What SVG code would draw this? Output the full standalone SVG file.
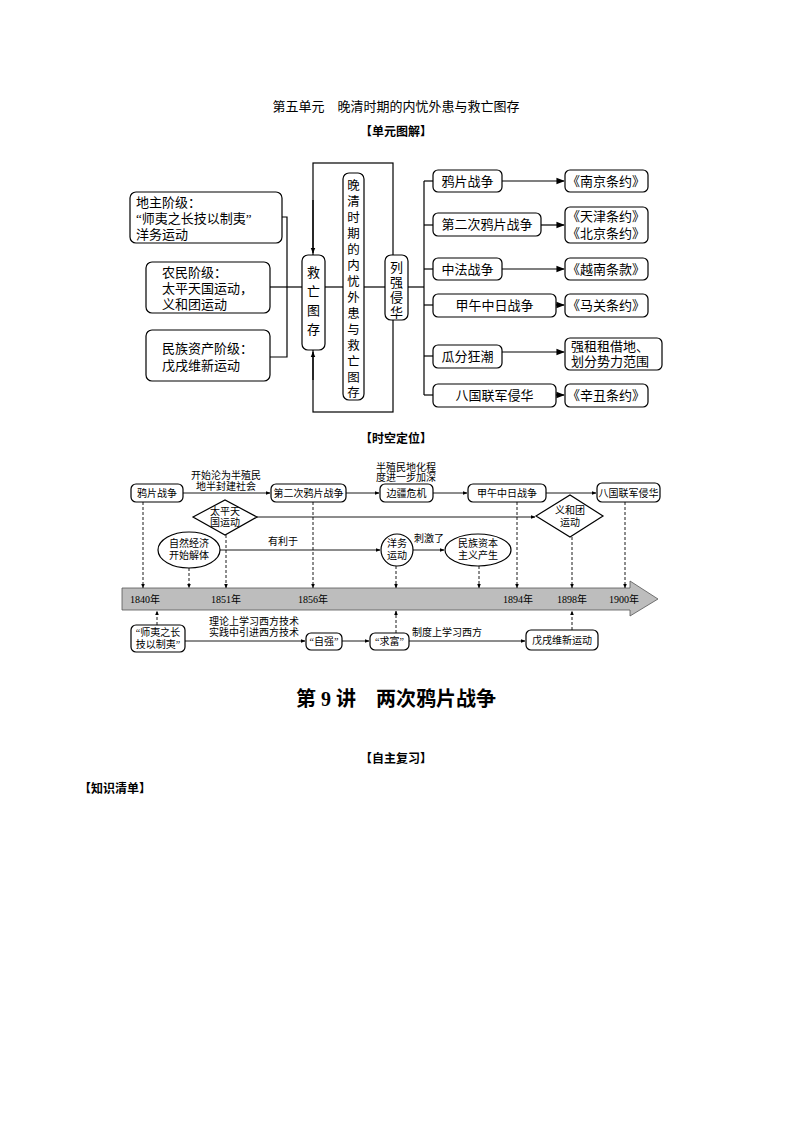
<svg xmlns="http://www.w3.org/2000/svg" width="794" height="1123" viewBox="0 0 794 1123">
<defs>
<marker id="a" viewBox="0 0 10 10" refX="9" refY="5" markerWidth="7" markerHeight="7" orient="auto"><path d="M0,1 L10,5 L0,9 z" fill="#000"/></marker>
<marker id="s" viewBox="0 0 10 10" refX="9" refY="5" markerWidth="5" markerHeight="5" orient="auto"><path d="M0,1 L10,5 L0,9 z" fill="#000"/></marker>
<style>
text{font-family:"Liberation Serif","Noto Sans CJK SC",serif;fill:#000}
.b{fill:#fff;stroke:#000;stroke-width:1.2}
.l{fill:none;stroke:#000;stroke-width:1.2}
.t{font-size:13px}
.v{font-size:12.5px}
.m{font-size:10px}
.d{fill:none;stroke:#000;stroke-width:0.9;stroke-dasharray:3,2}
.th{fill:none;stroke:#000;stroke-width:0.9}
</style>
</defs>
<rect width="794" height="1123" fill="#fff"/>
<text x="396" y="111" text-anchor="middle" font-size="13">第五单元　晚清时期的内忧外患与救亡图存</text>
<text x="396" y="136" text-anchor="middle" font-size="12" font-weight="bold">【单元图解】</text>
<text x="396" y="443" text-anchor="middle" font-size="12" font-weight="bold">【时空定位】</text>
<text x="396" y="706" text-anchor="middle" font-size="20" font-weight="bold">第 9 讲　两次鸦片战争</text>
<text x="396" y="763" text-anchor="middle" font-size="12" font-weight="bold">【自主复习】</text>
<text x="115" y="793" text-anchor="middle" font-size="12" font-weight="bold">【知识清单】</text>

<g id="connectors">
<rect x="313" y="163" width="80" height="249" class="l"/>
<line x1="313" y1="200" x2="313" y2="253" class="l" marker-end="url(#s)"/>
<line x1="313" y1="380" x2="313" y2="352" class="l" marker-end="url(#s)"/>
<polyline points="282,217 287,217 287,357 270,357" class="l"/>
<line x1="270" y1="287" x2="302" y2="287" class="l"/>
<line x1="325" y1="287" x2="343" y2="287" class="l"/>
<line x1="364" y1="287" x2="385" y2="287" class="l"/>
<line x1="408" y1="287" x2="424" y2="287" class="l"/>
<line x1="424" y1="181" x2="424" y2="395" class="l"/>
<line x1="424" y1="181" x2="433" y2="181" class="l"/>
<line x1="424" y1="225" x2="433" y2="225" class="l"/>
<line x1="424" y1="269" x2="433" y2="269" class="l"/>
<line x1="424" y1="305" x2="433" y2="305" class="l"/>
<line x1="424" y1="356" x2="433" y2="356" class="l"/>
<line x1="424" y1="395" x2="433" y2="395" class="l"/>
<line x1="502" y1="181" x2="564" y2="181" class="l" marker-end="url(#a)"/>
<line x1="541" y1="225" x2="564" y2="225" class="l" marker-end="url(#a)"/>
<line x1="502" y1="269" x2="564" y2="269" class="l" marker-end="url(#a)"/>
<line x1="556" y1="305" x2="564" y2="305" class="l" marker-end="url(#a)"/>
<line x1="502" y1="352" x2="564" y2="352" class="l" marker-end="url(#a)"/>
<line x1="556" y1="395" x2="564" y2="395" class="l" marker-end="url(#a)"/>

<line x1="183" y1="493" x2="270" y2="493" class="th" marker-end="url(#s)"/>
<line x1="346" y1="493" x2="379" y2="493" class="th" marker-end="url(#s)"/>
<line x1="433" y1="493" x2="467" y2="493" class="th" marker-end="url(#s)"/>
<line x1="546" y1="493" x2="596" y2="493" class="th" marker-end="url(#s)"/>
<line x1="257" y1="517" x2="535" y2="517" class="th" marker-end="url(#s)"/>
<line x1="220" y1="550" x2="380" y2="550" class="th" marker-end="url(#s)"/>
<line x1="413" y1="550" x2="444" y2="550" class="th" marker-end="url(#s)"/>
<line x1="185" y1="641" x2="305" y2="641" class="th" marker-end="url(#s)"/>
<line x1="342" y1="641" x2="369" y2="641" class="th" marker-end="url(#s)"/>
<line x1="409" y1="641" x2="525" y2="641" class="th" marker-end="url(#s)"/>
<line x1="143" y1="502" x2="143" y2="588" class="d" marker-end="url(#s)"/>
<line x1="189" y1="568" x2="189" y2="588" class="d" marker-end="url(#s)"/>
<line x1="226" y1="535" x2="226" y2="588" class="d" marker-end="url(#s)"/>
<line x1="313" y1="502" x2="313" y2="588" class="d" marker-end="url(#s)"/>
<line x1="396" y1="566" x2="396" y2="588" class="d" marker-end="url(#s)"/>
<line x1="479" y1="566" x2="479" y2="588" class="d" marker-end="url(#s)"/>
<line x1="517" y1="502" x2="517" y2="588" class="d" marker-end="url(#s)"/>
<line x1="572" y1="537" x2="572" y2="588" class="d" marker-end="url(#s)"/>
<line x1="625" y1="502" x2="625" y2="588" class="d" marker-end="url(#s)"/>
<line x1="157" y1="625" x2="157" y2="611" class="d" marker-end="url(#s)"/>
<line x1="396" y1="633" x2="396" y2="611" class="d" marker-end="url(#s)"/>
<line x1="572" y1="630" x2="572" y2="611" class="d" marker-end="url(#s)"/>
</g>

<g id="n-dizhu"><rect class="b" x="130" y="192" width="152" height="51" rx="6"/><text class="t" x="136" y="207">地主阶级：</text><text class="t" x="136" y="223">“师夷之长技以制夷”</text><text class="t" x="136" y="239">洋务运动</text></g>
<g id="n-nongmin"><rect class="b" x="146" y="262" width="124" height="51" rx="6"/><text class="t" x="162" y="277">农民阶级：</text><text class="t" x="162" y="293">太平天国运动，</text><text class="t" x="162" y="309">义和团运动</text></g>
<g id="n-zichan"><rect class="b" x="146" y="330" width="124" height="51" rx="6"/><text class="t" x="162" y="353">民族资产阶级：</text><text class="t" x="162" y="370">戊戌维新运动</text></g>
<g id="n-jiuwang"><rect class="b" x="302" y="255" width="23" height="95" rx="6"/><text class="t" x="313.5" y="277" text-anchor="middle">救</text><text class="t" x="313.5" y="296" text-anchor="middle">亡</text><text class="t" x="313.5" y="315" text-anchor="middle">图</text><text class="t" x="313.5" y="334" text-anchor="middle">存</text></g>
<g id="n-wanqing"><rect class="b" x="343" y="173" width="21" height="227" rx="6"/>
<text class="v" text-anchor="middle" x="353.5" y="190">晚</text><text class="v" text-anchor="middle" x="353.5" y="206">清</text><text class="v" text-anchor="middle" x="353.5" y="222">时</text><text class="v" text-anchor="middle" x="353.5" y="238">期</text><text class="v" text-anchor="middle" x="353.5" y="254">的</text><text class="v" text-anchor="middle" x="353.5" y="270">内</text><text class="v" text-anchor="middle" x="353.5" y="286">忧</text><text class="v" text-anchor="middle" x="353.5" y="302">外</text><text class="v" text-anchor="middle" x="353.5" y="318">患</text><text class="v" text-anchor="middle" x="353.5" y="334">与</text><text class="v" text-anchor="middle" x="353.5" y="350">救</text><text class="v" text-anchor="middle" x="353.5" y="366">亡</text><text class="v" text-anchor="middle" x="353.5" y="382">图</text><text class="v" text-anchor="middle" x="353.5" y="397">存</text></g>
<g id="n-lieqiang"><rect class="b" x="385" y="255" width="23" height="65" rx="6"/><text class="t" x="396.5" y="272" text-anchor="middle">列</text><text class="t" x="396.5" y="287" text-anchor="middle">强</text><text class="t" x="396.5" y="302" text-anchor="middle">侵</text><text class="t" x="396.5" y="317" text-anchor="middle">华</text></g>

<g id="r1"><rect class="b" x="433" y="170" width="69" height="22" rx="5"/><text class="t" x="467.5" y="186" text-anchor="middle">鸦片战争</text></g>
<g id="r2"><rect class="b" x="433" y="213" width="108" height="23" rx="5"/><text class="t" x="487" y="229" text-anchor="middle">第二次鸦片战争</text></g>
<g id="r3"><rect class="b" x="433" y="258" width="69" height="22" rx="5"/><text class="t" x="467.5" y="274" text-anchor="middle">中法战争</text></g>
<g id="r4"><rect class="b" x="433" y="294" width="123" height="23" rx="5"/><text class="t" x="494.5" y="310" text-anchor="middle">甲午中日战争</text></g>
<g id="r5"><rect class="b" x="433" y="345" width="69" height="23" rx="5"/><text class="t" x="467.5" y="361" text-anchor="middle">瓜分狂潮</text></g>
<g id="r6"><rect class="b" x="433" y="384" width="123" height="23" rx="5"/><text class="t" x="494.5" y="400" text-anchor="middle">八国联军侵华</text></g>
<g id="t1"><rect class="b" x="565" y="170" width="83" height="22" rx="5"/><text class="t" x="606" y="186" text-anchor="middle">《南京条约》</text></g>
<g id="t2"><rect class="b" x="565" y="207" width="83" height="36" rx="5"/><text class="t" x="606" y="221" text-anchor="middle">《天津条约》</text><text class="t" x="606" y="238" text-anchor="middle">《北京条约》</text></g>
<g id="t3"><rect class="b" x="565" y="258" width="83" height="22" rx="5"/><text class="t" x="606" y="274" text-anchor="middle">《越南条款》</text></g>
<g id="t4"><rect class="b" x="565" y="294" width="83" height="23" rx="5"/><text class="t" x="606" y="310" text-anchor="middle">《马关条约》</text></g>
<g id="t5"><rect class="b" x="565" y="338" width="97" height="32" rx="5"/><text class="t" x="571" y="351">强租租借地、</text><text class="t" x="571" y="366">划分势力范围</text></g>
<g id="t6"><rect class="b" x="565" y="384" width="83" height="23" rx="5"/><text class="t" x="606" y="400" text-anchor="middle">《辛丑条约》</text></g>

<g id="bar"><path d="M122,588 L630,588 L630,581 L658,599 L630,616 L630,610 L122,610 Z" fill="#bdbdbd" stroke="#555" stroke-width="0.8"/>
<text class="m" x="145" y="603" text-anchor="middle">1840年</text><text class="m" x="226" y="603" text-anchor="middle">1851年</text><text class="m" x="313" y="603" text-anchor="middle">1856年</text><text class="m" x="518" y="603" text-anchor="middle">1894年</text><text class="m" x="572" y="603" text-anchor="middle">1898年</text><text class="m" x="624" y="603" text-anchor="middle">1900年</text></g>
<g id="e1"><rect class="b" x="131" y="484" width="52" height="18" rx="5" stroke-width="0.9"/><text class="m" x="157" y="497" text-anchor="middle">鸦片战争</text></g>
<text class="m" x="226" y="479" text-anchor="middle">开始沦为半殖民</text><text class="m" x="226" y="490" text-anchor="middle">地半封建社会</text>
<g id="e2"><rect class="b" x="271" y="484" width="75" height="18" rx="5" stroke-width="0.9"/><text class="m" x="308.5" y="497" text-anchor="middle">第二次鸦片战争</text></g>
<text class="m" x="406" y="471" text-anchor="middle">半殖民地化程</text><text class="m" x="406" y="481" text-anchor="middle">度进一步加深</text>
<g id="e3"><rect class="b" x="380" y="484" width="53" height="18" rx="5" stroke-width="0.9"/><text class="m" x="406.5" y="497" text-anchor="middle">边疆危机</text></g>
<g id="e4"><rect class="b" x="468" y="484" width="78" height="18" rx="5" stroke-width="0.9"/><text class="m" x="507" y="497" text-anchor="middle">甲午中日战争</text></g>
<g id="e5"><rect class="b" x="597" y="483" width="63" height="19" rx="5" stroke-width="0.9"/><text class="m" x="628.5" y="497" text-anchor="middle">八国联军侵华</text></g>
<g id="e6"><polygon class="b" stroke-width="0.9" points="193,517 225,500 257,517 225,535"/><text class="m" x="225" y="515" text-anchor="middle">太平天</text><text class="m" x="225" y="526" text-anchor="middle">国运动</text></g>
<g id="e7"><polygon class="b" stroke-width="0.9" points="536,516 570,495 603,516 570,537"/><text class="m" x="570" y="514" text-anchor="middle">义和团</text><text class="m" x="570" y="526" text-anchor="middle">运动</text></g>
<g id="e8"><ellipse class="b" stroke-width="0.9" cx="189" cy="550" rx="31" ry="18"/><text class="m" x="189" y="547" text-anchor="middle">自然经济</text><text class="m" x="189" y="559" text-anchor="middle">开始解体</text></g>
<text class="m" x="283" y="545" text-anchor="middle">有利于</text>
<g id="e9"><circle class="b" stroke-width="0.9" cx="397" cy="550" r="16"/><text class="m" x="397" y="547" text-anchor="middle">洋务</text><text class="m" x="397" y="559" text-anchor="middle">运动</text></g>
<text class="m" x="429" y="542" text-anchor="middle">刺激了</text>
<g id="e10"><ellipse class="b" stroke-width="0.9" cx="478" cy="550" rx="33" ry="16"/><text class="m" x="478" y="547" text-anchor="middle">民族资本</text><text class="m" x="478" y="559" text-anchor="middle">主义产生</text></g>
<g id="e11"><rect class="b" x="131" y="625" width="54" height="27" rx="5" stroke-width="0.9"/><text class="m" x="158" y="636" text-anchor="middle">“师夷之长</text><text class="m" x="158" y="648" text-anchor="middle">技以制夷”</text></g>
<text class="m" x="254" y="625" text-anchor="middle">理论上学习西方技术</text><text class="m" x="254" y="636" text-anchor="middle">实践中引进西方技术</text>
<g id="e12"><rect class="b" x="306" y="633" width="36" height="17" rx="5" stroke-width="0.9"/><text class="m" x="324" y="645" text-anchor="middle">“自强”</text></g>
<g id="e13"><rect class="b" x="370" y="633" width="39" height="17" rx="5" stroke-width="0.9"/><text class="m" x="389.5" y="645" text-anchor="middle">“求富”</text></g>
<text class="m" x="447" y="636" text-anchor="middle">制度上学习西方</text>
<g id="e14"><rect class="b" x="526" y="630" width="72" height="20" rx="5" stroke-width="0.9"/><text class="m" x="562" y="644" text-anchor="middle">戊戌维新运动</text></g>
</svg>
